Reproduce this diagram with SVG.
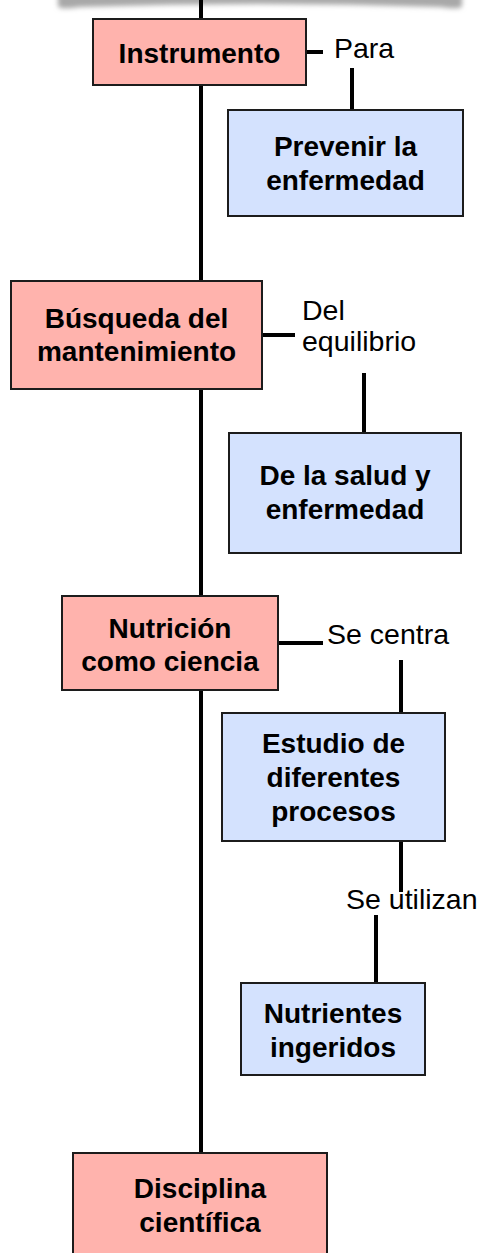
<svg xmlns="http://www.w3.org/2000/svg" width="482" height="1253" viewBox="0 0 482 1253">
<defs>
<filter id="blur" x="-10%" y="-100%" width="120%" height="300%"><feGaussianBlur stdDeviation="2.5"/></filter>
<style>
.pink{fill:#FFB3AD;stroke:#1c1c1c;stroke-width:2}
.blue{fill:#D4E2FE;stroke:#1c1c1c;stroke-width:2}
.ln{stroke:#000;stroke-width:4;fill:none}
.nt{font-family:"Liberation Sans",Arial,sans-serif;font-size:28px;font-weight:bold;fill:#000;text-anchor:middle}
.lb{font-family:"Liberation Sans",Arial,sans-serif;font-size:28.5px;fill:#000}
</style>
</defs>
<path d="M58,-20 L462,-20 L462,6 Q461,10 440,7 Q260,1 80,7 Q59,10 58,6 Z" fill="#a8a8a8" filter="url(#blur)"/>
<g id="connectors">
<line class="ln" x1="201" y1="0" x2="201" y2="1153"/>
<line class="ln" x1="306" y1="52" x2="323" y2="52"/>
<line class="ln" x1="352" y1="68" x2="352" y2="110"/>
<line class="ln" x1="262" y1="335" x2="295" y2="335"/>
<line class="ln" x1="364" y1="373" x2="364" y2="433"/>
<line class="ln" x1="278" y1="643" x2="323" y2="643"/>
<line class="ln" x1="401" y1="660" x2="401" y2="713"/>
<line class="ln" x1="401" y1="841" x2="401" y2="892"/>
<line class="ln" x1="376" y1="915" x2="376" y2="983"/>
<text class="lb" x="334" y="58">Para</text>
<text class="lb" x="302" y="320">Del</text>
<text class="lb" x="302" y="351">equilibrio</text>
<text class="lb" x="327" y="644">Se centra</text>
<text class="lb" x="346" y="909">Se utilizan</text>
</g>
<g id="n-instrumento">
<rect class="pink" x="93" y="19" width="213" height="66"/>
<text class="nt" x="199.5" y="63">Instrumento</text>
</g>
<g id="n-prevenir">
<rect class="blue" x="228" y="110" width="235" height="106"/>
<text class="nt" x="345.5" y="156">Prevenir la</text>
<text class="nt" x="345.5" y="190">enfermedad</text>
</g>
<g id="n-busqueda">
<rect class="pink" x="11" y="281" width="251" height="108"/>
<text class="nt" x="136.5" y="328">Búsqueda del</text>
<text class="nt" x="136.5" y="361">mantenimiento</text>
</g>
<g id="n-salud">
<rect class="blue" x="229" y="433" width="232" height="120"/>
<text class="nt" x="345" y="485">De la salud y</text>
<text class="nt" x="345" y="519">enfermedad</text>
</g>
<g id="n-nutricion">
<rect class="pink" x="62" y="596" width="216" height="94"/>
<text class="nt" x="170" y="638">Nutrición</text>
<text class="nt" x="170" y="671">como ciencia</text>
</g>
<g id="n-estudio">
<rect class="blue" x="222" y="713" width="223" height="128"/>
<text class="nt" x="333.5" y="753">Estudio de</text>
<text class="nt" x="333.5" y="787">diferentes</text>
<text class="nt" x="333.5" y="821">procesos</text>
</g>
<g id="n-nutrientes">
<rect class="blue" x="241" y="983" width="184" height="92"/>
<text class="nt" x="333" y="1023">Nutrientes</text>
<text class="nt" x="333" y="1057">ingeridos</text>
</g>
<g id="n-disciplina">
<rect class="pink" x="73" y="1153" width="254" height="110"/>
<text class="nt" x="200" y="1198">Disciplina</text>
<text class="nt" x="200" y="1232">científica</text>
</g>
</svg>
